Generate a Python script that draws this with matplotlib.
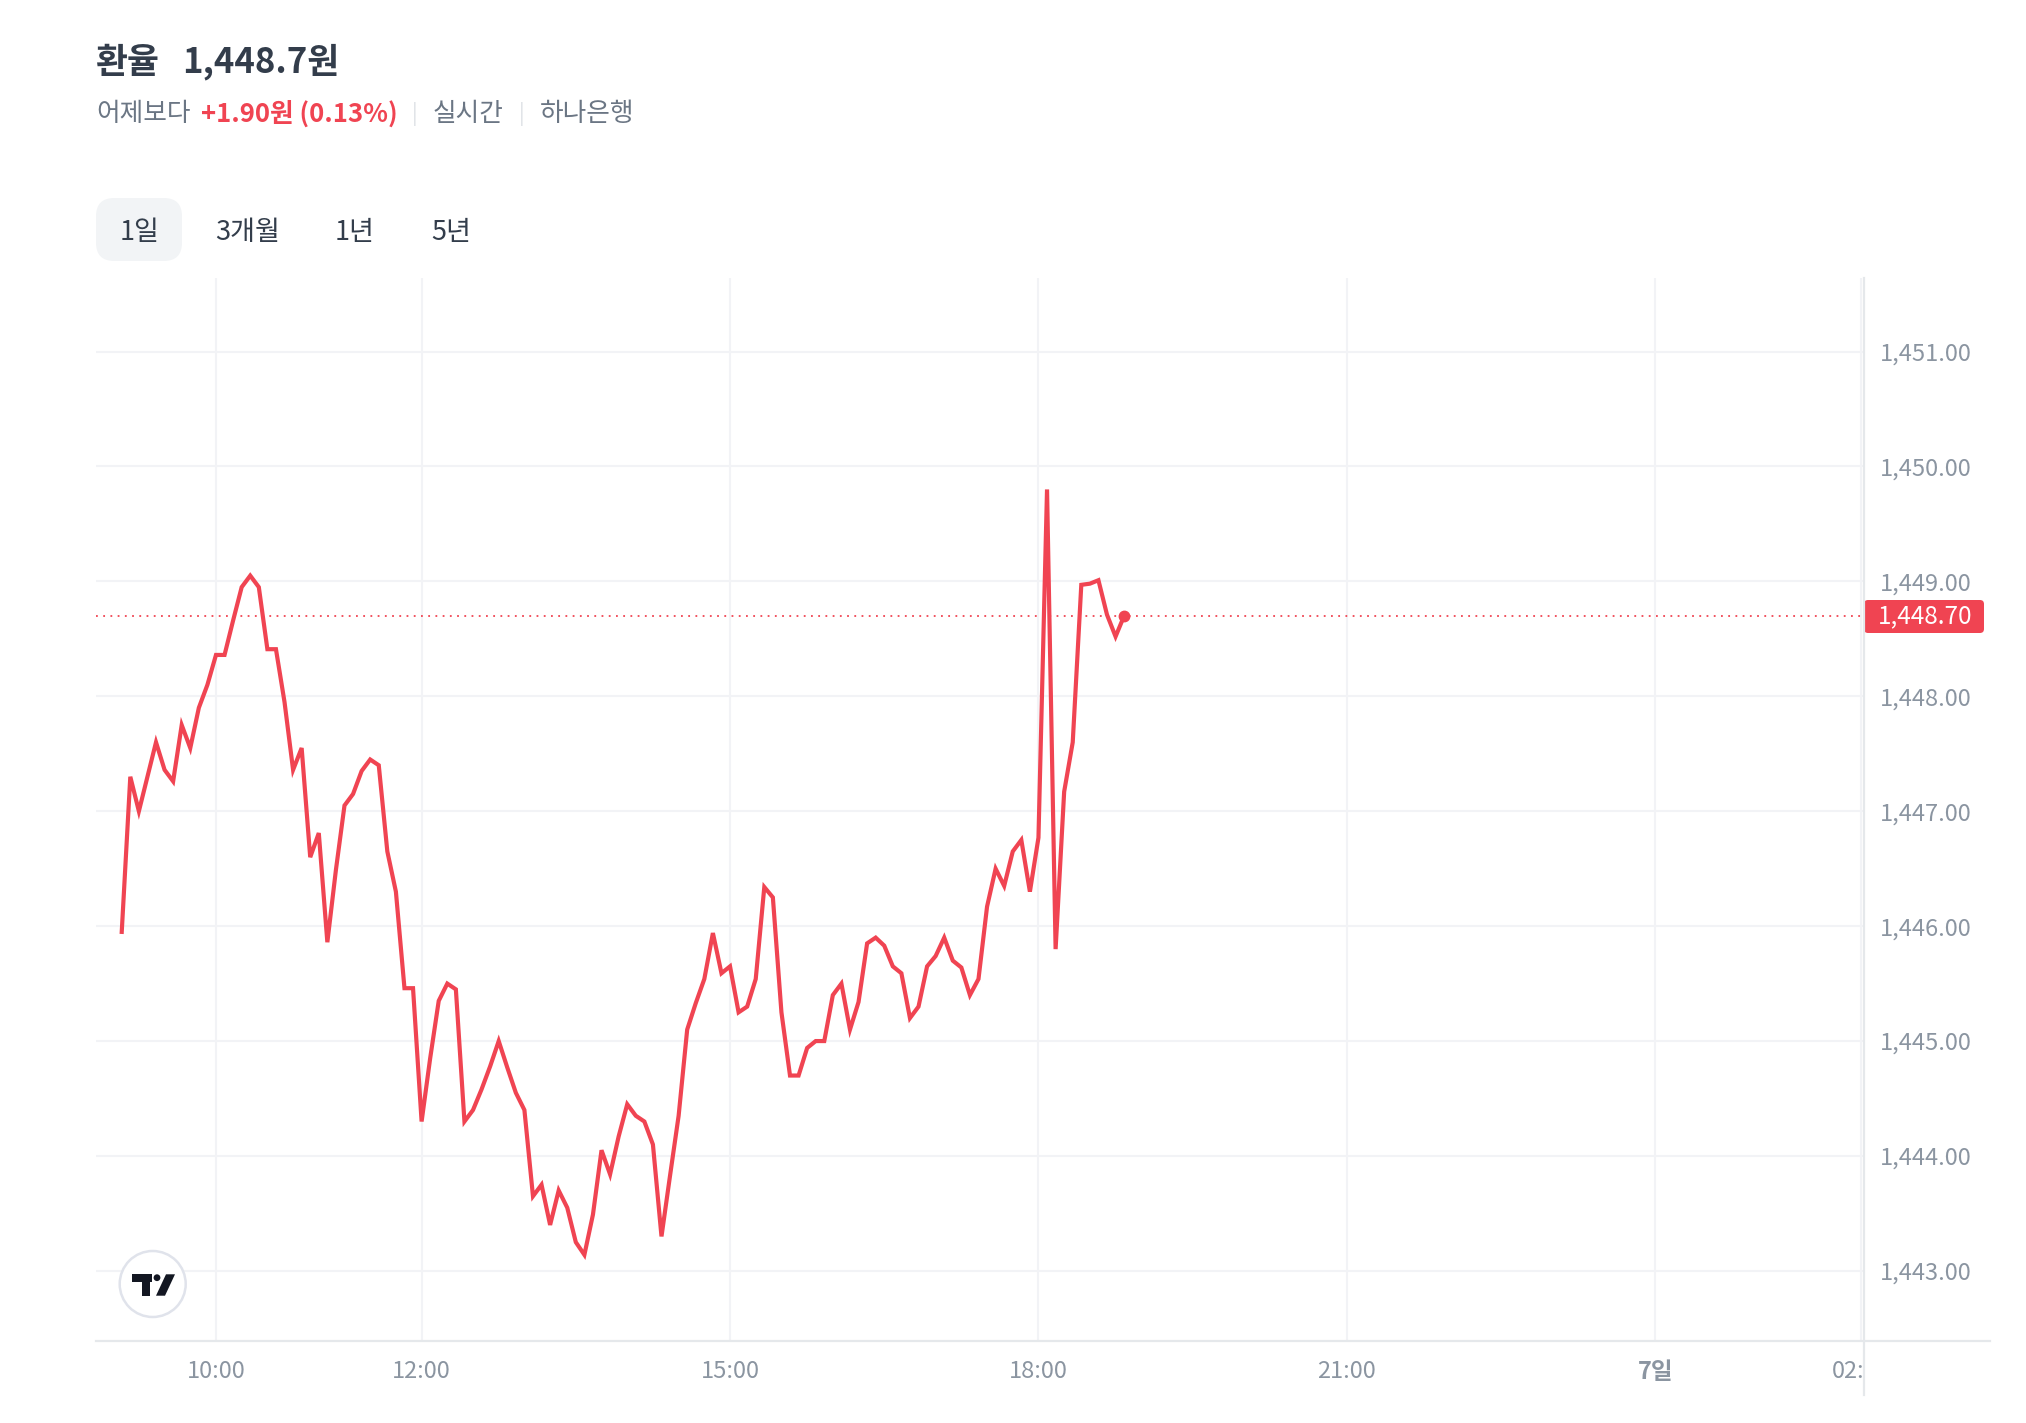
import matplotlib
matplotlib.use("Agg")
import matplotlib.pyplot as plt
import matplotlib.transforms as mtransforms
import numpy as np
from matplotlib.lines import Line2D
from matplotlib.patches import Circle, FancyBboxPatch, Polygon

plt.rcParams["font.family"] = ["Noto Sans CJK KR", "DejaVu Sans"]

W, H = 2026, 1423

# 5분 간격 환율 (09:05 ~ 18:50)
start_hour = 9 + 5 / 60
step_min = 5
rates = [
    1445.95, 1447.30, 1447.00, 1447.30, 1447.60, 1447.36, 1447.26, 1447.75, 1447.55, 1447.90,
    1448.10, 1448.36, 1448.36, 1448.66, 1448.95, 1449.05, 1448.95, 1448.41, 1448.41, 1447.95,
    1447.36, 1447.55, 1446.60, 1446.81, 1445.86, 1446.49, 1447.05, 1447.15, 1447.35, 1447.45,
    1447.40, 1446.65, 1446.30, 1445.46, 1445.46, 1444.30, 1444.85, 1445.35, 1445.50, 1445.45,
    1444.30, 1444.40, 1444.58, 1444.78, 1445.00, 1444.77, 1444.55, 1444.40, 1443.65, 1443.75,
    1443.40, 1443.70, 1443.55, 1443.25, 1443.14, 1443.49, 1444.05, 1443.84, 1444.17, 1444.45,
    1444.35, 1444.30, 1444.10, 1443.30, 1443.83, 1444.35, 1445.10, 1445.33, 1445.54, 1445.94,
    1445.59, 1445.65, 1445.25, 1445.30, 1445.54, 1446.34, 1446.25, 1445.25, 1444.70, 1444.70,
    1444.94, 1445.00, 1445.00, 1445.40, 1445.50, 1445.10, 1445.34, 1445.85, 1445.90, 1445.83,
    1445.65, 1445.59, 1445.20, 1445.30, 1445.65, 1445.74, 1445.90, 1445.70, 1445.64, 1445.40,
    1445.54, 1446.17, 1446.50, 1446.35, 1446.65, 1446.75, 1446.30, 1446.77, 1449.80, 1445.80,
    1447.17, 1447.60, 1448.97, 1448.98, 1449.01, 1448.71, 1448.52, 1448.70,
]
last_price = 1448.70
title_name = "환율"
title_rate = "1,448.7원"
change_text = "+1.90원 (0.13%)"
tabs = ["1일", "3개월", "1년", "5년"]
x_ticks = [10, 12, 15, 18, 21, 24, 26]
x_labels = ["10:00", "12:00", "15:00", "18:00", "21:00", "7일", ""]
y_ticks = list(range(1443, 1452))

RED = "#f04452"
DARK = "#333d4b"
GRAY = "#6b7684"
TICK = "#8b95a1"
GRID = "#f2f3f6"
BORDER = "#e5e8eb"


def px(x, y):
    # пиксели сверху-слева -> доли фигуры
    return x / W, 1 - y / H


def inch(x, y):
    # пиксели сверху-слева -> дюймы (для кругов без искажения)
    return x / 100, (H - y) / 100


fig = plt.figure(figsize=(W / 100, H / 100), dpi=100)
fig.patch.set_facecolor("white")

# заголовок
fig.text(*px(96, 62), title_name, fontsize=25, fontweight="bold", color=DARK, va="center")
fig.text(*px(182, 62), title_rate, fontsize=25, fontweight="bold", color=DARK, va="center")
fig.text(*px(96, 114), "어제보다", fontsize=18.5, color=GRAY, va="center")
fig.text(*px(201, 114), change_text, fontsize=18.5, fontweight="bold", color=RED, va="center")
fig.text(*px(415, 114), "|", fontsize=15, color="#dde1e5", va="center", ha="center")
fig.text(*px(433, 114), "실시간", fontsize=18.5, color=GRAY, va="center")
fig.text(*px(522, 114), "|", fontsize=15, color="#dde1e5", va="center", ha="center")
fig.text(*px(540, 114), "하나은행", fontsize=18.5, color=GRAY, va="center")

# вкладки
x0, y0 = px(96, 261)
x1, y1 = px(182, 198)
fig.patches.append(FancyBboxPatch((x0, y0), x1 - x0, y1 - y0,
                                  boxstyle="round,pad=0,rounding_size=0.009",
                                  transform=fig.transFigure, facecolor="#f2f4f6",
                                  edgecolor="none", mutation_aspect=W / H))
for label, cx in zip(tabs, [139.5, 248, 355, 451]):
    fig.text(*px(cx, 232), label, fontsize=19.5, color=DARK, ha="center", va="center")

# область графика
ax = fig.add_axes([96 / W, (H - 1341) / H, (1863 - 96) / W, (1341 - 278) / H])
ax.set_xlim(8.833, 26.02)
ax.set_ylim(1442.39, 1451.64)
for s in ax.spines.values():
    s.set_visible(False)

hours = start_hour + np.arange(len(rates)) * step_min / 60
ax.plot(hours, rates, color=RED, linewidth=3.0, solid_joinstyle="miter", zorder=3)
ax.plot(hours[-1], rates[-1], "o", color=RED, markersize=7.5, zorder=4)
ax.axhline(last_price, color=RED, linewidth=1.3, linestyle=(0, (1, 3)), zorder=2)

ax.set_xticks(x_ticks)
ax.set_xticklabels(x_labels)
ax.set_yticks(y_ticks)
ax.set_yticklabels([f"{v:,.2f}" for v in y_ticks])
ax.yaxis.tick_right()
ax.tick_params(axis="y", length=0, pad=12, labelsize=17, labelcolor=TICK)
ax.tick_params(axis="x", length=0, pad=14, labelsize=17, labelcolor=TICK)
ax.get_xticklabels()[5].set_fontweight("bold")
ax.grid(color=GRID, linewidth=1.5)
ax.set_axisbelow(True)

# обрезанная подпись 02:00
trans = mtransforms.blended_transform_factory(ax.transData, fig.transFigure)
t = fig.text(26, px(0, 1372)[1], "02:00", transform=trans, fontsize=17, color=TICK,
             ha="center", va="center")
t.set_clip_on(True)
t.set_clip_box(mtransforms.Bbox.from_extents(0, 0, 1862, H))

# границы шкал
fig.lines.append(Line2D([96 / W, 1990 / W], [px(0, 1341)[1]] * 2, transform=fig.transFigure,
                        color=BORDER, linewidth=1.6))
fig.lines.append(Line2D([1864 / W] * 2, [px(0, 278)[1], px(0, 1395)[1]],
                        transform=fig.transFigure, color=BORDER, linewidth=1.6))

# метка текущей цены
bx0, by0 = px(1864, 633)
bx1, by1 = px(1984, 600)
fig.patches.append(FancyBboxPatch((bx0, by0), bx1 - bx0, by1 - by0,
                                  boxstyle="round,pad=0,rounding_size=0.002",
                                  transform=fig.transFigure, facecolor=RED,
                                  edgecolor="none", mutation_aspect=W / H))
fig.text(*px(1925, 616), f"{last_price:,.2f}", fontsize=17.5, color="white",
         ha="center", va="center")

# логотип TradingView
fig.patches.append(Circle(inch(152.7, 1284), 0.33, transform=fig.dpi_scale_trans,
                          facecolor="white", edgecolor="#e0e3eb", linewidth=1.8))
logo = [
    [(131.7, 1274.3), (151.7, 1274.3), (151.7, 1281.7), (150, 1281.7), (150, 1295.7),
     (141.7, 1295.7), (141.7, 1281.7), (131.7, 1281.7)],
    [(166, 1274.3), (175, 1274.3), (165, 1295.7), (156, 1295.7)],
]
for pts in logo:
    fig.patches.append(Polygon([px(x, y) for x, y in pts], closed=True,
                               transform=fig.transFigure, facecolor="#131722",
                               edgecolor="none"))
fig.patches.append(Circle(inch(157, 1277.7), 0.034, transform=fig.dpi_scale_trans,
                          facecolor="#131722", edgecolor="none"))

fig.savefig("out.png", dpi=100, facecolor="white")
